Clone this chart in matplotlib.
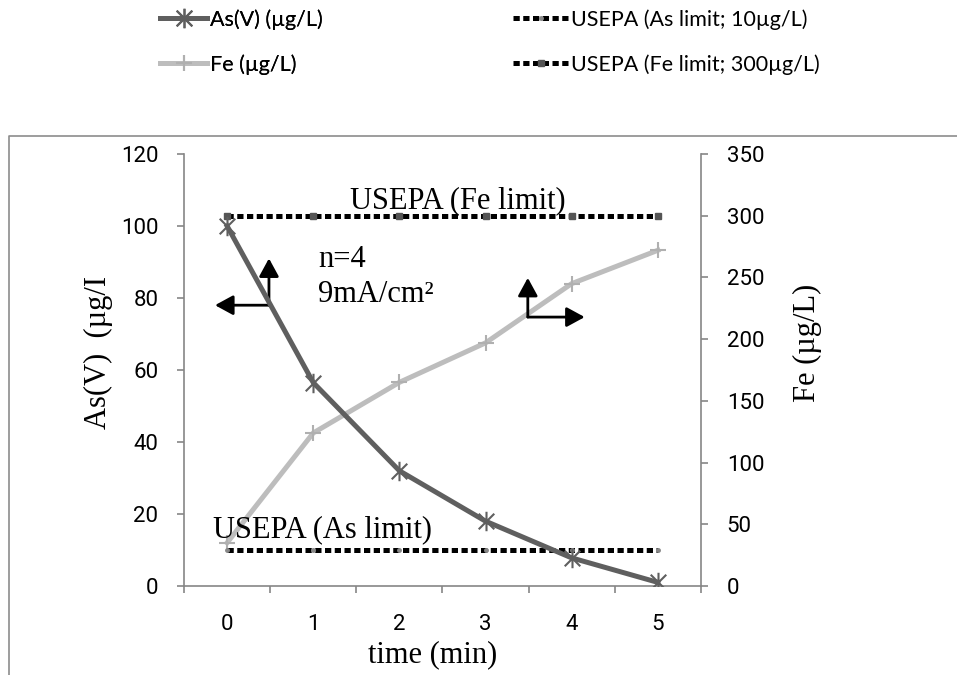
import matplotlib
matplotlib.use('Agg')
import matplotlib.pyplot as plt
from matplotlib.path import Path
from matplotlib.lines import Line2D

# ---- data ----
times = [0, 1, 2, 3, 4, 5]
time_labels = ['0', '1', '2', '3', '4', '5']
as_values = [100, 56.5, 32, 18, 7.8, 1]
fe_values = [35, 124, 165, 197, 245, 272]
as_limit = [10, 10, 10, 10, 10, 10]
fe_limit = [300, 300, 300, 300, 300, 300]
left_ticks = [0, 20, 40, 60, 80, 100, 120]
right_ticks = [0, 50, 100, 150, 200, 250, 300, 350]

W, H = 957, 675
fig = plt.figure(figsize=(W / 100, H / 100), dpi=100)
ax = fig.add_axes([184 / W, 1 - 586 / H, (701 - 184) / W, (586 - 154) / H])
ax2 = ax.twinx()
ax.set_zorder(ax2.get_zorder() + 1)
ax.patch.set_visible(False)

AXC = '#868686'
AS_C = '#5f5f5f'
FE_C = '#bdbdbd'
SERIF = 'Liberation Serif'
TICKF = 'Roboto'

star = Path([(-1, -1), (1, 1), (-1, 1), (1, -1), (0, -1.25), (0, 1.25)],
            [Path.MOVETO, Path.LINETO, Path.MOVETO, Path.LINETO, Path.MOVETO, Path.LINETO])

dot = (0, (1.25, 0.7))
l_fel, = ax2.plot(times, fe_limit, color='black', lw=3.6, linestyle=dot, dash_capstyle='butt',
                  marker='s', ms=4, mfc='#555555', mec='#555555', zorder=2,
                  label='USEPA (Fe limit; 300µg/L)')
l_fe, = ax2.plot(times, fe_values, color=FE_C, lw=3.6, marker='+', ms=12, mew=1.5,
                 mec='#b0b0b0', zorder=3, label='Fe (µg/L)')
l_asl, = ax.plot(times, as_limit, color='black', lw=3.6, linestyle=dot, dash_capstyle='butt',
                 marker='o', ms=2.5, mfc='#888888', mec='#888888', zorder=2,
                 label='USEPA (As limit; 10µg/L)')
l_as, = ax.plot(times, as_values, color=AS_C, lw=3.6, marker=star, ms=14, mew=1.5,
                mec=AS_C, mfc='none', zorder=4, label='As(V) (µg/L)')

ax.set_xlim(-0.5, 5.5)
ax.set_ylim(0, 120)
ax2.set_ylim(0, 350)

ax.set_xticks(times)
ax.set_xticklabels(time_labels)
ax.set_xticks([t - 0.5 for t in times] + [5.5], minor=True)
ax.set_yticks(left_ticks)
ax2.set_yticks(right_ticks)

for a in (ax, ax2):
    for s in a.spines.values():
        s.set_visible(False)
        s.set_color(AXC)
        s.set_linewidth(1.2)
ax.spines['left'].set_visible(True)
ax.spines['bottom'].set_visible(True)
ax2.spines['right'].set_visible(True)

ax.tick_params(axis='x', which='major', length=0, pad=20, labelsize=16)
ax.tick_params(axis='x', which='minor', length=5, width=1.2, color=AXC, direction='out')
ax.tick_params(axis='y', length=5, width=1.2, color=AXC, direction='out', pad=13.5, labelsize=16)
ax2.tick_params(axis='y', length=5, width=1.2, color=AXC, direction='out', pad=13.5, labelsize=16)
for lab in ax.get_xticklabels() + ax.get_yticklabels() + ax2.get_yticklabels():
    lab.set_fontfamily(TICKF)

# annotations
ax.text(2.68, 107, 'USEPA (Fe limit)', fontsize=22, family=SERIF, ha='center', va='center')
ax.text(1.11, 15.6, 'USEPA (As limit)', fontsize=22, family=SERIF, ha='center', va='center')
ax.text(1.055, 90.8, 'n=4', fontsize=22, family=SERIF, ha='left', va='center')
ax.text(1.055, 81.1, '9mA/cm²', fontsize=22, family=SERIF, ha='left', va='center')

ap = dict(arrowstyle='-|>,head_length=0.55,head_width=0.3', lw=2, color='black',
          shrinkA=0, shrinkB=0, mutation_scale=20)
ax.annotate('', xy=(0.486, 91), xytext=(0.486, 78), arrowprops=ap)
ax.annotate('', xy=(-0.14, 78), xytext=(0.486, 78), arrowprops=ap)
ax.annotate('', xy=(3.49, 85.6), xytext=(3.49, 74.7), arrowprops=ap)
ax.annotate('', xy=(4.15, 74.7), xytext=(3.49, 74.7), arrowprops=ap)

# axis labels
fig.text(98 / W, 1 - 352 / H, 'As(V)  (µg/I', rotation=90, fontsize=22, family=SERIF,
         ha='center', va='center')
fig.text(807 / W, 1 - 343 / H, 'Fe (µg/L)', rotation=90, fontsize=22, family=SERIF,
         ha='center', va='center')
fig.text(433 / W, 1 - 655 / H, 'time (min)', fontsize=22, family=SERIF,
         ha='center', va='center')

# chart area frame (partially visible)
fig.add_artist(Line2D([9 / W, 9 / W, 1.01], [-0.01, 1 - 136 / H, 1 - 136 / H],
                      transform=fig.transFigure, color='#8c8c8c', lw=1.2))

# legend (two columns placed separately)
leg_kw = dict(loc='upper left', frameon=False, prop={'family': 'Lato', 'size': 15.5},
              handletextpad=0.1, labelspacing=1.15,
              borderpad=0, borderaxespad=0, numpoints=1)
leg1 = fig.legend(handles=[l_as, l_fe], bbox_to_anchor=(160 / W, 1 - 9 / H),
                  handlelength=2.2, **leg_kw)
fig.add_artist(leg1)
leg2 = fig.legend(handles=[l_asl, l_fel], bbox_to_anchor=(513 / W, 1 - 9 / H),
                  handlelength=2.6, **leg_kw)

fig.savefig('out.png', dpi=100)
